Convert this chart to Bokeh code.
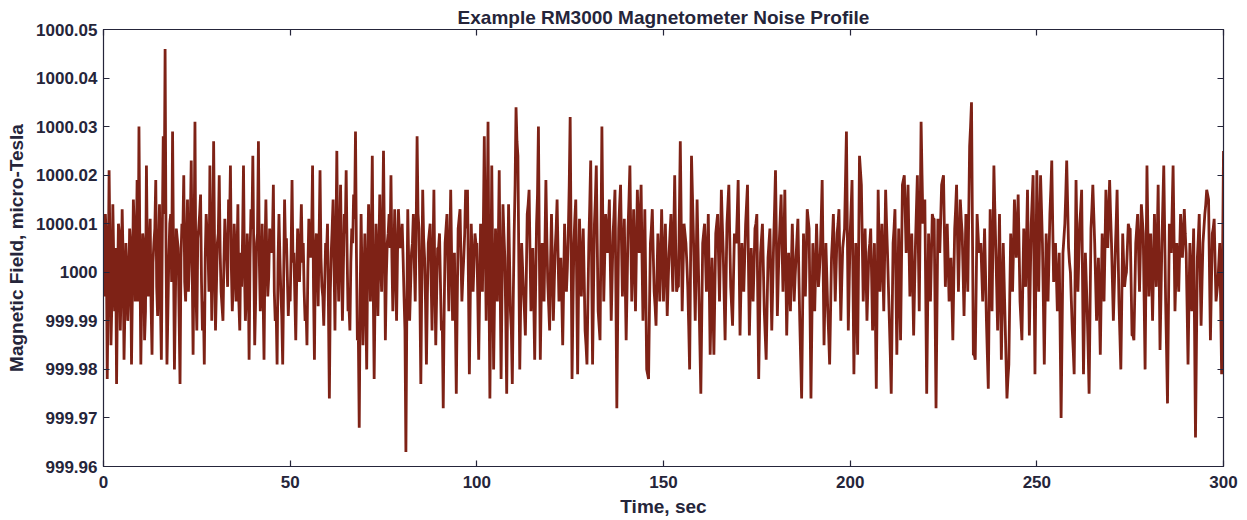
from bokeh.plotting import figure
from bokeh.models import Range1d, FixedTicker, LinearAxis, ColumnDataSource
from bokeh.embed import file_html
from bokeh.resources import INLINE
import numpy as np

# Chart data: deviation from 1000 micro-Tesla, in nano-Tesla.
# field_deviation_nT holds the samples at t = 0, 0.5, 1.0 ... 300 s;
# midpoint_deviation_nT holds the samples in between (t = 0.25, 0.75 ... 299.75 s).
sample_interval_sec = 0.25
baseline_uT = 1000.0
field_deviation_nT = [
    0, 12, -22, 21, -15, 14, -8, -23, 10, -12, 13, -18, 6, -10, 9, -19, 15, -6, 19, 30,
    -19, 8, -14, 22, -5, 11, -17, 6, 19, -9, 14, -18, 28, 46, -19, 3, 12, 29, -20, 9,
    5, -23, 10, 20, -6, 15, 2, 23, -17, 31, -12, 9, 16, -12, -19, 12, 4, 22, -10, 27,
    -12, 6, 20, -4, -10, 11, 3, 15, 22, -8, 10, -6, 14, -12, -3, 22, -10, 8, -18, 13,
    24, -15, 6, 27, -8, 10, -18, 15, -5, 9, 4, 18, -10, -19, 12, -4, -19, 15, 7, -9,
    -6, 19, 4, -14, 9, -2, 14, 6, -10, -15, 11, 3, 22, -18, 8, -7, 21, -3, -11, 6,
    10, -26, 4, 15, -12, 25, -6, 18, -10, 12, 21, -8, -12, 9, 16, 29, -14, -32, 12, -15,
    8, -20, 14, -6, 24, -22, 10, -9, 16, -4, 25, -14, 6, 12, 20, -8, 13, -10, 13, 5,
    10, -5, -37, 13, -10, 4, 12, -6, 28, 9, -23, 17, 3, -19, 6, 10, -12, 17, -15, 5,
    8, -12, -28, 6, 12, -8, 17, -10, 4, -25, 9, 13, -6, 3, 17, 17, -21, 10, -4, 8,
    6, -18, 10, -4, 28, -10, 31, -26, 22, -20, 9, -6, 21, -22, 14, 3, -25, 14, -8, -23,
    8, 34, 24, -20, 6, -4, -13, 12, 17, -8, 5, -18, 10, 30, -18, 6, -6, 19, -2, -12,
    12, -10, 5, 15, -6, 3, -15, 10, -4, 8, 32, -22, 6, 15, -21, 11, -5, 9, -12, -19,
    6, 23, -19, 10, 22, -8, -14, 30, -6, 12, 4, 15, -10, 8, 17, -28, 9, 18, -5, 11,
    -14, 9, 22, -6, 13, -8, 17, 4, 18, -10, 13, -20, -22, 6, 13, -4, -11, 8, -6, 13,
    -6, 10, -9, 4, 12, -4, 20, -4, -3, 27, -8, 10, 6, -3, -20, 24, 8, -10, 15, -5,
    -25, 6, 10, -4, 12, -17, 3, -17, 8, 12, -6, 17, 4, -14, 10, 18, -3, -11, 8, 6,
    19, -13, 6, -4, 10, 18, -13, 5, -6, 9, 12, -22, 4, 10, -8, -18, 3, 9, -12, 6,
    21, -9, 6, 16, -4, 17, -13, 4, -8, 10, -6, 3, 11, -10, -26, 8, -5, 13, 9, -26,
    6, -8, 10, -3, 4, 19, -15, 6, -8, -19, 3, 12, -6, 8, 13, -10, 5, 9, 29, -12,
    8, 19, -21, 6, -17, 24, 18, -6, 9, -10, 4, 9, -12, 6, -24, 17, -4, 10, -8, 17,
    4, -10, -25, 6, 13, -17, 9, -14, 18, 20, 4, 18, -5, 8, -13, 6, 20, -8, 31, 10,
    15, -25, 8, -6, 12, 11, -28, 11, 4, 18, 20, -3, 10, -6, 3, -14, 9, 18, -4, 15,
    8, -9, 12, -4, 26, 35, -17, -18, 12, 4, 6, -6, 9, -10, -24, 13, -8, 22, 5, -12,
    12, -18, 6, -10, -26, -19, 8, -4, 15, 3, 16, -6, -14, 9, -3, 17, -13, 10, 20, -21,
    21, -4, 20, 6, -19, 8, -6, 12, 23, -2, 6, -8, 4, -30, 4, 10, 23, 5, 0, -12,
    -21, 19, -4, 10, 17, -21, 4, -8, -25, 9, 18, 6, -10, 3, -17, 8, -6, 17, 5, 19,
    6, -10, 4, 17, -6, -20, 8, -3, 0, 10, 9, -13, -14, 6, 12, -4, 14, 8, -20, 22,
    -5, 8, -10, 12, -3, 18, -16, 6, 22, -6, -27, 10, 4, 22, -8, 6, -4, 12, 3, 13,
    4, -19, 6, -8, 9, -34, 3, 12, -11, 6, 12, 17, 15, -14, 8, 11, -6, -2, 6, -21,
    25,
]
midpoint_deviation_nT = [
    -5, 7, -3, 4, -6, 2, 5, -4, 8, -2, 3, -7, 1, -4, 6, -3, 9, 2, -6, 4,
    -4, 6, -8, 3, 5, -7, 2, 9, -3, 4, -6, 8, 12, 5, -8, 10, -2, 4, -6, 7,
    -9, 3, 8, -2, 6, -4, 10, 2, 5, -3, 7, 12, -2, -6, 3, 8, -4, 6, 2, 5,
    -3, 8, 4, -7, 2, 6, -3, 9, 1, -2, 5, 3, -6, 4, 7, 1, -5, 2, 3, 9,
    4, -6, 8, 2, -3, -5, 4, 3, -1, 6, 7, -4, -8, 2, 3, -9, -2, 5, -1, -3,
    4, 2, -5, -1, 3, 6, 2, -4, -7, 1, 5, 8, -3, 4, 2, 7, 3, -5, -2, 4,
    -7, -4, 9, 2, 6, 3, 7, 2, 1, 8, 4, -7, 2, 6, 11, 4, -12, -5, -1, -3,
    -6, 2, 5, 8, -3, -4, 3, 4, 2, 9, 6, -1, 8, 5, 3, 2, 1, 4, 8, 6,
    3, -12, -8, 2, -3, 6, 2, 9, 12, -5, -2, 7, -6, -5, 8, -1, 3, -2, -4, 5,
    -2, -10, -8, 9, 2, 4, 3, -2, -9, -6, 11, 3, -1, 8, 9, -2, -5, 3, 2, 6,
    -5, -4, 3, 10, 7, 9, -2, -3, 1, -5, 2, 6, -2, -3, 8, -9, -4, 3, -12, -6,
    18, 27, 2, -6, 1, -8, -1, 14, 4, -2, -6, -3, 16, 4, -5, 0, 6, 7, -7, 2,
    1, -2, 9, 4, -1, -5, -3, 2, 1, 18, 6, -7, 11, -2, -3, 3, 2, -1, -15, -6,
    14, 2, -4, 15, 6, -11, 7, 10, 3, 8, 9, 2, -1, 12, -4, -8, 14, 6, 3, -2,
    -3, 15, 7, 3, 2, 5, 10, 11, 3, 1, -3, -21, -7, 9, 4, -7, -1, 1, 3, 4,
    2, 1, -2, 8, 3, 8, 6, -3, 12, 10, 1, 8, 2, -11, 2, 16, -1, 2, 5, -15,
    -9, 8, 3, 4, -2, -7, -7, -4, 10, 3, 5, 10, -5, -2, 14, 7, -7, -1, 7, 12,
    3, -3, 1, 3, 14, 2, -4, -1, 1, 10, -5, -9, 7, 1, -13, -7, 6, -1, -3, 13,
    6, -1, 11, 6, 6, 2, -4, -2, 1, 2, -1, 7, 0, -18, -9, 1, 4, 11, -8, -10,
    -1, 1, 3, 0, 11, 2, -5, -1, -13, -8, 7, 3, 1, 10, 1, -2, 7, 19, 8, -2,
    13, -1, -7, -5, 3, 21, 6, 1, 0, -3, 6, -1, -3, -9, -3, 6, 3, 1, 4, 10,
    -3, -17, -9, 9, -2, -4, -2, 2, 19, 12, 11, 6, 1, -2, -3, 13, 6, 11, 20, 12,
    -5, -8, 1, 3, 11, -8, -8, 7, 11, 19, 8, 3, 2, -1, -5, -2, 13, 7, 5, 11,
    0, 1, 4, 11, 30, 9, -17, -3, 8, 5, 0, 1, 0, -17, -5, 2, 7, 13, -3, 0,
    -3, -6, -2, -18, -22, -5, 2, 5, 9, 9, 5, -10, -2, 3, 7, 2, -1, 15, 0, 0,
    8, 8, 13, -6, -5, 1, 3, 17, 10, 2, -1, -2, -13, -13, 7, 16, 14, 2, -6, -16,
    -1, 7, 3, 13, -2, -8, -2, -16, -8, 13, 12, -2, -3, -7, -4, 1, 5, 11, 12, 12,
    -2, -3, 10, 5, -13, -6, 2, -1, 5, 9, -2, -13, -4, 9, 4, 5, 11, -6, 1, 8,
    1, -1, 1, 4, 7, 1, -5, 14, 8, -16, -8, 7, 13, 7, -1, 1, 4, 7, 8, 8,
    -7, -6, -1, 0, -12, -15, 7, 0, -2, 9, 14, 16, 0, -3, 9, 2, -4, 2, -7, 2,
]
x_ticks = [0, 50, 100, 150, 200, 250, 300]
y_ticks = [999.96, 999.97, 999.98, 999.99, 1000.0, 1000.01, 1000.02, 1000.03, 1000.04, 1000.05]
y_tick_labels = ["999.96", "999.97", "999.98", "999.99", "1000", "1000.01", "1000.02",
                 "1000.03", "1000.04", "1000.05"]
title_text = "Example RM3000 Magnetometer Noise Profile"
x_label = "Time, sec"
y_label = "Magnetic Field, micro-Tesla"

# interleave the two sample sets into one time series
n_total = len(field_deviation_nT) + len(midpoint_deviation_nT)
deviation = np.empty(n_total)
deviation[0::2] = field_deviation_nT
deviation[1::2] = midpoint_deviation_nT
time_sec = np.arange(n_total) * sample_interval_sec
field_uT = baseline_uT + deviation / 1000.0
src = ColumnDataSource(dict(t=time_sec, b=field_uT))

FONT = "Liberation Sans"
INK = "#25253a"
LINE = "#7e2216"

p = figure(width=1240, height=520, output_backend="svg", toolbar_location=None,
           x_range=Range1d(0, 300), y_range=Range1d(999.96, 1000.05),
           min_border_left=103, min_border_right=17, min_border_top=29, min_border_bottom=54,
           title=title_text)
p.background_fill_color = "white"
p.border_fill_color = "white"
p.outline_line_color = INK
p.outline_line_width = 1.2
p.grid.visible = False

p.title.align = "center"
p.title.text_font = FONT
p.title.text_font_size = "19px"
p.title.text_font_style = "bold"
p.title.text_color = INK
p.title.offset = 0
p.title.standoff = 4

p.line("t", "b", source=src, line_color=LINE, line_width=2.8)

def style_axis(ax, labels=True):
    ax.major_tick_in = 6
    ax.major_tick_out = 0
    ax.minor_tick_in = 0
    ax.minor_tick_out = 0
    ax.axis_line_color = INK
    ax.major_tick_line_color = INK
    ax.major_tick_line_width = 1.2
    ax.major_label_text_font = FONT
    ax.major_label_text_font_size = "17px"
    ax.major_label_text_font_style = "bold"
    ax.major_label_text_color = INK
    ax.axis_label_text_font = FONT
    ax.axis_label_text_font_size = "19px"
    ax.axis_label_text_font_style = "bold"
    ax.axis_label_text_color = INK
    if not labels:
        ax.major_label_text_font_size = "0px"
        ax.major_label_text_alpha = 0

xa = p.xaxis[0]
xa.ticker = FixedTicker(ticks=x_ticks)
style_axis(xa)
xa.axis_label = x_label
xa.major_label_standoff = 9
xa.axis_label_standoff = 5

ya = p.yaxis[0]
ya.ticker = FixedTicker(ticks=y_ticks)
ya.major_label_overrides = {v: s for v, s in zip(y_ticks, y_tick_labels)}
style_axis(ya)
ya.axis_label = y_label
ya.major_label_standoff = 6
ya.axis_label_standoff = 6

top = LinearAxis(ticker=FixedTicker(ticks=x_ticks))
style_axis(top, labels=False)
p.add_layout(top, "above")
right = LinearAxis(ticker=FixedTicker(ticks=y_ticks))
style_axis(right, labels=False)
p.add_layout(right, "right")

open("out.html", "w").write(file_html(p, INLINE))
